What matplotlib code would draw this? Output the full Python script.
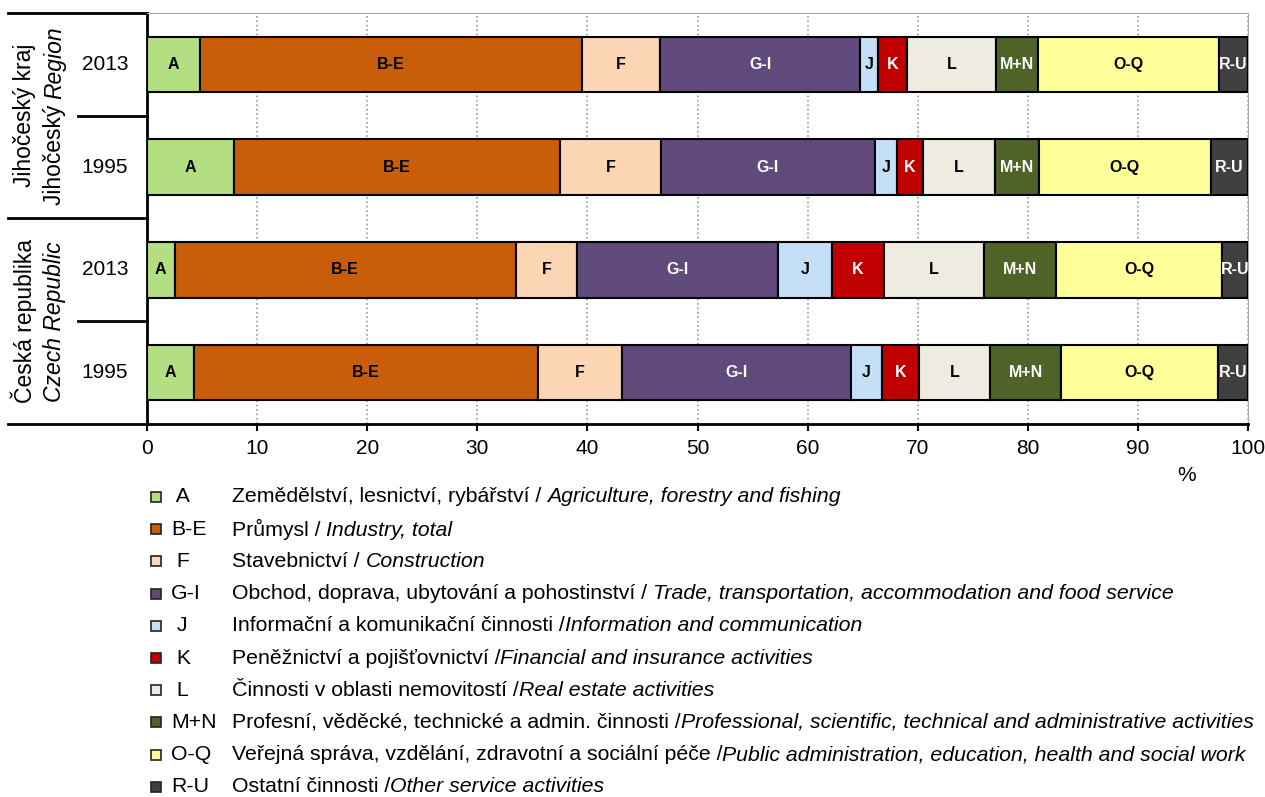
import numpy as np
import matplotlib.pyplot as plt
import matplotlib.transforms as mtrans

plt.rcParams['font.family'] = ['Liberation Sans', 'DejaVu Sans']

# sector codes, shares in %
codes = ['A', 'B-E', 'F', 'G-I', 'J', 'K', 'L', 'M+N', 'O-Q', 'R-U']
jc_2013 = [4.8, 34.7, 7.1, 18.2, 1.6, 2.6, 8.1, 3.8, 16.5, 2.6]
jc_1995 = [7.9, 29.6, 9.2, 19.4, 2.0, 2.4, 6.5, 4.0, 15.6, 3.4]
cr_2013 = [2.5, 31.0, 5.6, 18.2, 4.9, 4.7, 9.1, 6.6, 15.0, 2.4]
cr_1995 = [4.3, 31.2, 7.6, 20.8, 2.9, 3.3, 6.5, 6.4, 14.3, 2.7]
years = ['2013', '1995', '2013', '1995']
groups_cz = ['Jihočeský kraj', 'Česká republika']
groups_en = [('Jihočeský ', 'Region'), ('', 'Czech Republic')]

colors = ['#b3de81', '#c85e0a', '#fcd5b4', '#604a7b', '#c5dff7',
          '#c00000', '#eeece1', '#4f6228', '#ffff99', '#404040']
txt_colors = ['k', 'k', 'k', 'w', 'k', 'w', 'k', 'w', 'k', 'w']

legend_cz = ['Zemědělství, lesnictví, rybářství / ',
             'Průmysl / ',
             'Stavebnictví / ',
             'Obchod, doprava, ubytování a pohostinství / ',
             'Informační a komunikační činnosti /',
             'Peněžnictví a pojišťovnictví /',
             'Činnosti v oblasti nemovitostí /',
             'Profesní, věděcké, technické a admin. činnosti /',
             'Veřejná správa, vzdělání, zdravotní a sociální péče /',
             'Ostatní činnosti /']
legend_en = ['Agriculture, forestry and fishing',
             'Industry, total',
             'Construction',
             'Trade, transportation, accommodation and food service',
             'Information and communication',
             'Financial and insurance activities',
             'Real estate activities',
             'Professional, scientific, technical and administrative activities',
             'Public administration, education, health and social work',
             'Other service activities']

rows = [jc_2013, jc_1995, cr_2013, cr_1995]
ypos = [3, 2, 1, 0]

fig = plt.figure(figsize=(12.65, 7.97), dpi=100)
ax = fig.add_axes([147 / 1265, 1 - 424 / 797, 1101 / 1265, 411 / 797])

for y, vals in zip(ypos, rows):
    left = 0
    for k, v in enumerate(vals):
        ax.barh(y, v, left=left, height=0.54, color=colors[k],
                edgecolor='black', linewidth=1.5, zorder=3)
        ax.text(left + v / 2, y, codes[k], ha='center', va='center',
                fontsize=11.5, fontweight='bold', color=txt_colors[k], zorder=4)
        left += v

ax.set_xlim(0, 100)
ax.set_ylim(-0.5, 3.5)
ax.set_xticks(np.arange(0, 101, 10))
ax.tick_params(axis='x', direction='out', length=5, width=1.5, labelsize=15, pad=6)
ax.set_yticks([])
for xv in range(10, 101, 10):
    ax.axvline(xv, color='#999999', linestyle=':', linewidth=1.2, zorder=1)
ax.spines['left'].set_linewidth(2)
ax.spines['bottom'].set_linewidth(2)
ax.spines['top'].set_color('#aaaaaa')
ax.spines['right'].set_color('#aaaaaa')
ax.text(0.944, -0.125, '%', transform=ax.transAxes, fontsize=15,
        ha='center', va='center')

# row header lines and labels
yt = ax.get_yaxis_transform()
x_far = (8 - 147) / 1101
x_near = (78 - 147) / 1101
for yl in [3.5, 1.5, -0.5]:
    ax.plot([x_far, 0], [yl, yl], color='black', lw=2, transform=yt, clip_on=False)
for yl in [2.5, 0.5]:
    ax.plot([x_near, 0], [yl, yl], color='black', lw=2, transform=yt, clip_on=False)
for y, yr in zip(ypos, years):
    ax.text((105 - 147) / 1101, y, yr, transform=yt, ha='center', va='center',
            fontsize=15)

fig.canvas.draw()
r = fig.canvas.get_renderer()
gsize = 16.5
for gi, yc in enumerate([2.5, 0.5]):
    ax.text((24 - 147) / 1101, yc, groups_cz[gi], transform=yt, rotation=90,
            ha='center', va='center', fontsize=gsize)
    reg, ita = groups_en[gi]
    xa = (55 - 147) / 1101
    t_it = ax.text(0, 0, ita, rotation=90, fontsize=gsize, style='italic')
    h_it = t_it.get_window_extent(r).height
    h_reg = 0
    t_reg = None
    if reg:
        t_reg = ax.text(0, 0, reg, rotation=90, fontsize=gsize)
        h_reg = t_reg.get_window_extent(r).height
    ycd = ax.transData.transform((0, yc))[1]
    xd = ax.transAxes.transform((xa, 0))[0]
    ystart = ycd - (h_reg + h_it) / 2
    if t_reg is not None:
        t_reg.set_transform(mtrans.IdentityTransform())
        t_reg.set_position((xd, ystart))
        t_reg.set_ha('center')
        t_reg.set_va('bottom')
    t_it.set_transform(mtrans.IdentityTransform())
    t_it.set_position((xd, ystart + h_reg))
    t_it.set_ha('center')
    t_it.set_va('bottom')

# legend drawn by hand
lsize = 15.3
for k in range(len(codes)):
    yf = 1 - (497 + 32.2 * k) / 797
    fig.patches.append(plt.Rectangle((151 / 1265, yf - 5 / 797), 10 / 1265, 10 / 797,
                                     transform=fig.transFigure, facecolor=colors[k],
                                     edgecolor='#222222', linewidth=1.2))
    lab = codes[k] if len(codes[k]) > 1 else ' ' + codes[k]
    fig.text(171 / 1265, yf, lab, fontsize=lsize, va='center', ha='left')
    t1 = fig.text(232 / 1265, yf, legend_cz[k], fontsize=lsize, va='center', ha='left')
    ax.annotate(legend_en[k], xy=(1, 0), xycoords=t1, va='bottom', ha='left',
                fontsize=lsize, style='italic', annotation_clip=False)

fig.savefig('out.png', dpi=100)
